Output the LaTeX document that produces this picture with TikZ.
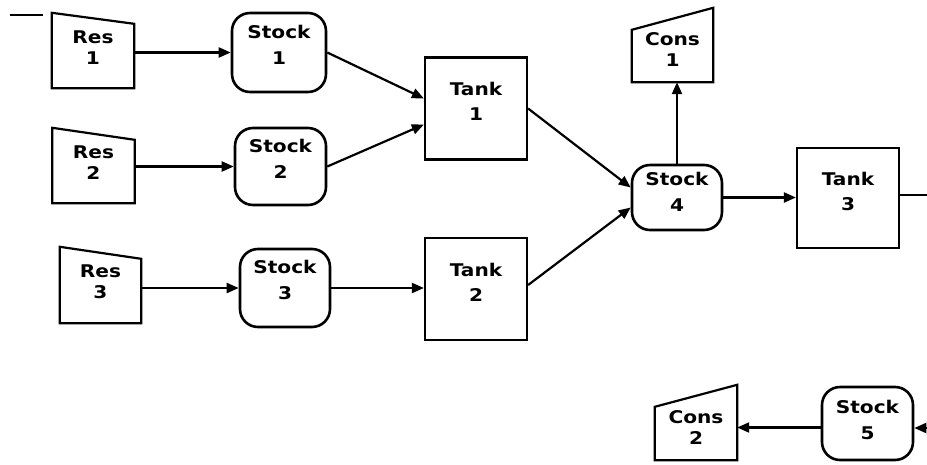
\documentclass[tikz,border=0pt]{standalone}
\usepackage{fontspec}
\usetikzlibrary{arrows.meta}
\newfontfamily\boxfont{DejaVu Sans}[FakeStretch=1.15]

\tikzset{
	lbl/.style={font=\boxfont\bfseries\fontsize{17.5pt}{#1}\selectfont, align=center, inner sep=0pt},
	reslbl/.style={lbl=21pt, yshift=3pt},
	conslbl/.style={lbl=21pt, yshift=-5pt},
	stocklbl/.style={lbl=26pt, yshift=8pt},
	tanklbl/.style={lbl=25pt, yshift=7pt},
	res/.style={rectangle, inner sep=0pt, minimum width=82pt, minimum height=75pt},
	cons/.style={rectangle, inner sep=0pt, minimum width=82pt, minimum height=75pt},
	stock/.style={rectangle, draw, line width=2.6pt, rounded corners=18pt, inner sep=0pt, minimum width=91pt, minimum height=78pt},
	tank/.style={rectangle, draw, line width=2.2pt, inner sep=0pt, minimum width=102pt, minimum height=102pt},
	outline/.style={line width=2.2pt, line join=miter},
	flow/.style={line width=2.2pt, -{Triangle[length=12pt,width=10pt]}}
}

\begin{document}
\begin{tikzpicture}[x=1pt, y=-1pt]
	\useasboundingbox[fill=white] (0,0) rectangle (927,464);

	\node[res] (r1) at (93,50.5) [label={[reslbl, name=r1-l]center:Res\\1}] {};
	\node[res] (r2) at (93.5,165.5) [label={[reslbl, name=r2-l]center:Res\\2}] {};
	\node[res, minimum width=81pt, minimum height=76pt] (r3) at (100.5,285) [label={[reslbl, name=r3-l]center:Res\\3}] {};

	\node[stock, minimum width=94pt, minimum height=79pt] (s1) at (279,52.5) [label={[stocklbl, name=s1-l]center:Stock\\1}] {};
	\node[stock, minimum height=77pt] (s2) at (280.5,166.5) [label={[stocklbl, name=s2-l]center:Stock\\2}] {};
	\node[stock, minimum width=90pt] (s3) at (285,288) [label={[stocklbl, name=s3-l]center:Stock\\3}] {};
	\node[stock, minimum width=90pt, minimum height=65pt] (s4) at (677,197.5) [label={[stocklbl, yshift=-2pt, name=s4-l]center:Stock\\4}] {};
	\node[stock, minimum height=73pt] (s5) at (867.5,423.5) [label={[stocklbl, yshift=-4pt, name=s5-l]center:Stock\\5}] {};

	\node[tank] (t1) at (476,108.5) [label={[tanklbl, name=t1-l]center:Tank\\1}] {};
	\node[tank] (t2) at (476,289) [label={[tanklbl, name=t2-l]center:Tank\\2}] {};
	\node[tank, minimum height=100pt] (t3) at (848,198) [label={[tanklbl, name=t3-l]center:Tank\\3}] {};

	\node[cons, minimum width=81pt, minimum height=74pt] (c1) at (672.5,45) [label={[conslbl, name=c1-l]center:Cons\\1}] {};
	\node[cons] (c2) at (696,422.5) [label={[conslbl, name=c2-l]center:Cons\\2}] {};

	% loose ends at the border
	\coordinate (stubL) at (10,15);
	\coordinate (stubR) at (43,15);
	\coordinate (out3) at (927,195);
	\coordinate (in5) at (927,428);

	% trapezoid outlines
	\foreach \n/\d in {r1/11pt, r2/12pt, r3/12pt}
		\draw[outline] (\n.south west) -- (\n.north west) -- ([yshift=-\d]\n.north east) -- (\n.south east) -- cycle;
	\foreach \n in {c1, c2}
		\draw[outline] (\n.south west) -- ([yshift=-22pt]\n.north west) -- (\n.north east) -- (\n.south east) -- cycle;

	% supply
	\draw[flow] (r1.east |- s1) -- (s1.west);
	\draw[flow] (r2.east |- s2) -- (s2.west);
	\draw[flow] (r3.east |- s3) -- (s3.west);
	% into the tanks
	\draw[flow] (s1.east) -- ([yshift=10pt]t1.west);
	\draw[flow] (s2.east) -- ([yshift=-16pt]t1.west);
	\draw[flow] (s3.east) -- (s3.east -| t2.west);
	% into stock 4
	\draw[flow] (t1.east) -- ([yshift=10pt]s4.west);
	\draw[flow] ([yshift=4pt]t2.east) -- ([yshift=-10pt]s4.west);
	% out of stock 4
	\draw[flow] (s4.north) -- (s4.north |- c1.south);
	\draw[flow] (s4.east) -- (s4.east -| t3.west);
	% stock 5
	\draw[flow] ([yshift=-4pt]s5.west) -- ([yshift=-4pt]s5.west -| c2.east);
	\draw[flow] (in5) -- (in5 -| s5.east);
	% cut lines
	\draw[line width=2pt] (t3.east |- out3) -- (out3);
	\draw[line width=1.6pt] (stubL) -- (stubR);
\end{tikzpicture}
\end{document}
